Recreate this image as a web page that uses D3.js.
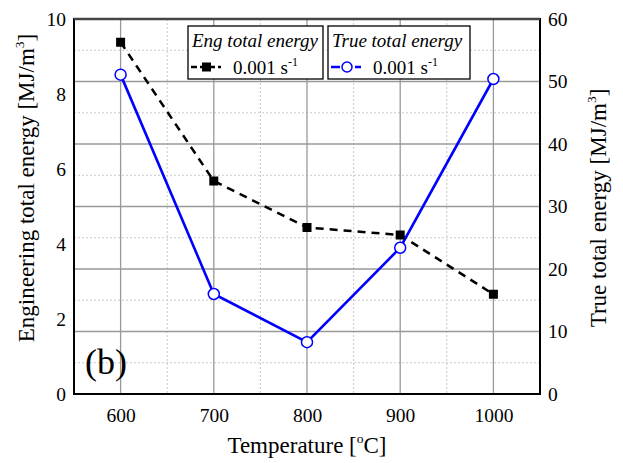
<!DOCTYPE html>
<html><head><meta charset="utf-8">
<script src="https://cdn.jsdelivr.net/npm/d3@7"></script>
<style>body{margin:0;background:#fff}svg{display:block}</style>
</head><body>
<svg id="c" width="623" height="463" font-family="Liberation Serif"></svg>
<script>
const temps = [600, 700, 800, 900, 1000];
const engEnergy = [9.38, 5.68, 4.44, 4.24, 2.66];
const trueEnergy = [51.1, 16.0, 8.3, 23.4, 50.4];
const xTicks = [600, 700, 800, 900, 1000];
const xMinor = [650, 750, 850, 950];
const leftTicks = [0, 2, 4, 6, 8, 10];
const rightTicks = [0, 10, 20, 30, 40, 50, 60];
const rightMinor = [5, 15, 25, 35, 45, 55];

const FONT = "Liberation Serif";
const svg = d3.select("#c");
const L = 74, R = 540, T = 19, B = 394;
const x = d3.scaleLinear().domain([550, 1050]).range([L, R]);
const yL = d3.scaleLinear().domain([0, 10]).range([B, T]);
const yR = d3.scaleLinear().domain([0, 60]).range([B, T]);

// grid
const g = svg.append("g");
g.selectAll(".vm").data(xMinor).join("line")
  .attr("x1", d => x(d)).attr("x2", d => x(d)).attr("y1", T).attr("y2", B)
  .attr("stroke", "#c8c8c8").attr("stroke-width", 1).attr("stroke-dasharray", "2,2");
g.selectAll(".hm").data(rightMinor).join("line")
  .attr("y1", d => yR(d)).attr("y2", d => yR(d)).attr("x1", L).attr("x2", R)
  .attr("stroke", "#c8c8c8").attr("stroke-width", 1).attr("stroke-dasharray", "2,2");
g.selectAll(".v").data(xTicks).join("line")
  .attr("x1", d => x(d)).attr("x2", d => x(d)).attr("y1", T).attr("y2", B)
  .attr("stroke", "#999").attr("stroke-width", 1.3);
g.selectAll(".h").data(rightTicks).join("line")
  .attr("y1", d => yR(d)).attr("y2", d => yR(d)).attr("x1", L).attr("x2", R)
  .attr("stroke", "#999").attr("stroke-width", 1.3);

// frame
svg.append("rect").attr("x", L).attr("y", T).attr("width", R - L).attr("height", B - T)
  .attr("fill", "none").attr("stroke", "#000").attr("stroke-width", 2);
svg.append("line").attr("x1", L).attr("x2", R).attr("y1", T).attr("y2", T)
  .attr("stroke", "#444").attr("stroke-width", 2.5);

// axes (labels only)
const axB = svg.append("g").attr("transform", `translate(0,${B})`)
  .call(d3.axisBottom(x).tickValues(xTicks).tickSize(0).tickPadding(14).tickFormat(d3.format("d")));
const axL = svg.append("g").attr("transform", `translate(${L},0)`)
  .call(d3.axisLeft(yL).tickValues(leftTicks).tickSize(0).tickPadding(8));
const axR = svg.append("g").attr("transform", `translate(${R},0)`)
  .call(d3.axisRight(yR).tickValues(rightTicks).tickSize(0).tickPadding(8));
[axB, axL, axR].forEach(a => {
  a.select(".domain").remove();
  a.attr("font-family", FONT).attr("font-size", 19.5);
  a.selectAll("text").attr("font-family", FONT).attr("font-size", 19.5).attr("fill", "#000");
});

// lines
const engData = temps.map((t, i) => [t, engEnergy[i]]);
const trueData = temps.map((t, i) => [t, trueEnergy[i]]);
svg.append("path").datum(engData)
  .attr("d", d3.line().x(d => x(d[0])).y(d => yL(d[1])))
  .attr("fill", "none").attr("stroke", "#000").attr("stroke-width", 2.5).attr("stroke-dasharray", "8,6");
svg.append("path").datum(trueData)
  .attr("d", d3.line().x(d => x(d[0])).y(d => yR(d[1])))
  .attr("fill", "none").attr("stroke", "#0000ff").attr("stroke-width", 2.6);
svg.selectAll(".sq").data(engData).join("rect")
  .attr("x", d => x(d[0]) - 4.5).attr("y", d => yL(d[1]) - 4.5).attr("width", 9).attr("height", 9).attr("fill", "#000");
svg.selectAll(".ci").data(trueData).join("circle")
  .attr("cx", d => x(d[0])).attr("cy", d => yR(d[1])).attr("r", 5.5)
  .attr("fill", "#fff").attr("stroke", "#0000ff").attr("stroke-width", 1.5);

// legends
function legend(x0, w, title, color, marker) {
  const lg = svg.append("g");
  lg.append("rect").attr("x", x0).attr("y", 26).attr("width", w).attr("height", 53)
    .attr("fill", "#fff").attr("stroke", "#000").attr("stroke-width", 1.3);
  lg.append("text").attr("x", x0 + 4).attr("y", 47).attr("font-family", FONT).attr("font-size", 19).attr("font-style", "italic").attr("fill", "#000").text(title);
  lg.append("line").attr("x1", x0 + 3).attr("x2", x0 + 33).attr("y1", 67).attr("y2", 67)
    .attr("stroke", color).attr("stroke-width", 2.5).attr("stroke-dasharray", marker === "sq" ? "6,3" : "9,3");
  if (marker === "sq") lg.append("rect").attr("x", x0 + 14).attr("y", 62.5).attr("width", 9).attr("height", 9).attr("fill", "#000");
  else lg.append("circle").attr("cx", x0 + 19).attr("cy", 67).attr("r", 5).attr("fill", "#fff").attr("stroke", color).attr("stroke-width", 1.5);
  const t = lg.append("text").attr("x", x0 + 45).attr("y", 74).attr("font-family", FONT).attr("font-size", 19).attr("fill", "#000");
  t.append("tspan").text("0.001 s");
  t.append("tspan").attr("dy", -8).attr("font-size", 12).text("-1");
}
legend(188, 135, "Eng total energy", "#000", "sq");
legend(328, 142, "True total energy", "#0000ff", "ci");

// panel label
svg.append("text").attr("x", 85).attr("y", 374).attr("font-family", FONT).attr("font-size", 36).attr("fill", "#000").text("(b)");

// axis titles
function title(el, main, sup, tail) {
  el.attr("font-family", FONT).attr("font-size", 23).attr("fill", "#000").attr("text-anchor", "middle");
  el.append("tspan").text(main);
  el.append("tspan").attr("dy", -10).attr("font-size", 13.5).text(sup);
  el.append("tspan").attr("dy", 10).text(tail);
}
title(svg.append("text").attr("x", 307).attr("y", 453), "Temperature [", "o", "C]");
title(svg.append("text").attr("transform", "translate(34,188) rotate(-90)"), "Engineering total energy [MJ/m", "3", "]");
title(svg.append("text").attr("transform", "translate(606,208) rotate(-90)"), "True total energy [MJ/m", "3", "]");
</script>
</body></html>
